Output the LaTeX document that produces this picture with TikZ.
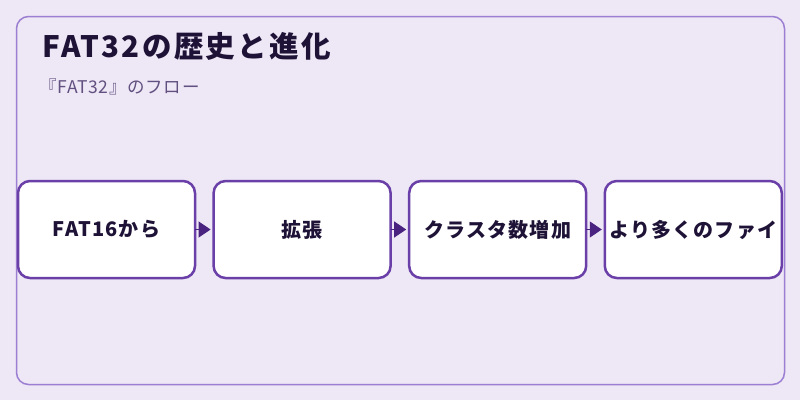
\documentclass[tikz,border=0pt]{standalone}
\usepackage{fontspec}
\setmainfont{Noto Sans CJK JP}
\usepackage{tikz}
\usetikzlibrary{positioning,arrows.meta}

\definecolor{pagebg}{HTML}{EDE7F6}
\definecolor{framecol}{HTML}{9C7FD2}
\definecolor{boxcol}{HTML}{6A3FA8}
\definecolor{arrowcol}{HTML}{4A2380}
\definecolor{titlecol}{HTML}{1E1236}
\definecolor{subcol}{HTML}{625080}

\begin{document}
\begin{tikzpicture}[x=1pt,y=-1pt,>={Triangle[length=12pt,width=16pt]},
  node distance=18.6pt]
 \tikzstyle{stepbox} = [draw=boxcol,line width=2.5pt,fill=white,rounded corners=12pt,
   minimum width=177pt,minimum height=97pt,inner sep=0pt,outer sep=0pt,
   font=\fontsize{20pt}{22pt}\selectfont\bfseries\addfontfeature{LetterSpace=6},text=titlecol]
 \tikzstyle{flow} = [->,draw=arrowcol,fill=arrowcol,line width=1pt,shorten >=3pt]

% Page and frame
 \fill[pagebg] (0,0) rectangle (800,400);
 \useasboundingbox (0,0) rectangle (800,400);
 \draw[framecol,line width=1.5pt,rounded corners=12pt] (16.5,16.5) rectangle (784.5,384.5);

% Heading
 \node[anchor=base west,inner sep=0pt,text=titlecol,
   font=\fontsize{29.5pt}{32pt}\selectfont\bfseries\addfontfeature{LetterSpace=8}] (title) at (42,57) {FAT32の歴史と進化};
 \node[anchor=base west,inner sep=0pt,text=subcol,
   font=\fontsize{17.5pt}{20pt}\selectfont\addfontfeature{LetterSpace=4}] (subtitle) at (39,93) {『FAT32』のフロー};

% Steps
 \node[stepbox] (s1) at (106.5,229.5) {FAT16から};
 \node[stepbox,right=of s1] (s2) {拡張};
 \node[stepbox,right=of s2] (s3) {クラスタ数増加};
 \node[stepbox,right=of s3] (s4) {より多くのファイ};

% Arrows
 \draw[flow] (s1) -- (s2);
 \draw[flow] (s2) -- (s3);
 \draw[flow] (s3) -- (s4);

\end{tikzpicture}
\end{document}
